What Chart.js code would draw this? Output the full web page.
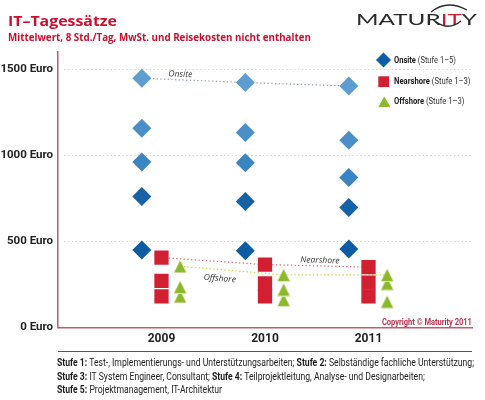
<!DOCTYPE html>
<html><head><meta charset="utf-8">
<script src="https://cdn.jsdelivr.net/npm/chart.js@4.4.1/dist/chart.umd.min.js"></script>
<style>
html,body{margin:0;padding:0;background:#fff;width:485px;height:400px;overflow:hidden;}
#wrap{position:relative;width:485px;height:400px;}
#c{position:absolute;left:0;top:0;}
.t{position:absolute;white-space:nowrap;line-height:1;transform-origin:0 50%;}
.cond{font-family:'Liberation Sans Narrow',Roboto,sans-serif;}
#title{left:8px;top:10px;font:700 15px 'Open Sans',sans-serif;color:#c8102e;}
#subtitle{left:8px;top:29.5px;font:700 10px 'Open Sans',sans-serif;color:#c8102e;}
#logo{left:356px;top:8.5px;font:400 16px Lato,sans-serif;color:#2a2a2a;}
#logo .r{color:#d0192f;}
.leg{left:393.5px;font-size:9.5px;color:#333;}
.leg b{color:#1a1a1a;}
#copy{right:13.3px;top:317.7px;font-size:8.5px;font-weight:700;color:#b5304d;transform-origin:100% 50%;}
.foot{left:57px;font-size:10px;color:#222;}
.foot b{color:#1a1a1a;}
#sep{position:absolute;left:58px;top:351px;width:414px;height:1px;background:#555;}
.mk{position:absolute;}
</style></head>
<body><div id="wrap">
<canvas id="c" width="485" height="400"></canvas>
<div class="t" id="title" data-w="109">IT–Tagessätze</div>
<div class="t" id="subtitle" data-w="303">Mittelwert, 8 Std./Tag, MwSt. und Reisekosten nicht enthalten</div>
<div class="t" id="logo" data-w="121">MATUR<span class="r">IT</span>Y</div>
<svg class="mk" style="left:0;top:0" width="485" height="40"><path d="M431 12 Q447 -1 467 10" fill="none" stroke="#2a2a2a" stroke-width="1.4"/><path d="M436 22 Q449 31 461 21" fill="none" stroke="#2a2a2a" stroke-width="1.4"/></svg>
<svg class="mk" style="left:375px;top:52px" width="18" height="16"><polygon points="1,8 8.5,0.5 16,8 8.5,15.5" fill="#0d5ea7"/></svg>
<svg class="mk" style="left:378px;top:75.5px" width="12" height="12"><rect x="0.3" y="0.3" width="10.8" height="10.8" fill="#d21f32"/></svg>
<svg class="mk" style="left:377.5px;top:95.5px" width="13" height="12"><polygon points="0.3,11 12.3,11 6.3,0.5" fill="#8cb82b"/></svg>
<div class="t leg cond" id="leg1" data-w="62" style="top:55.2px"><b>Onsite</b> (Stufe 1–5)</div>
<div class="t leg cond" id="leg2" data-w="76.5" style="top:76.2px"><b>Nearshore</b> (Stufe 1–3)</div>
<div class="t leg cond" id="leg3" data-w="70.5" style="top:96.2px"><b>Offshore</b> (Stufe 1–3)</div>
<div class="t cond" id="copy" data-w="90">Copyright © Maturity 2011</div>
<div id="sep"></div>
<div class="t foot cond" id="f1" style="top:358.3px"><b>Stufe 1:</b> Test-, Implementierungs- und Unterstützungsarbeiten; <b>Stufe 2:</b> Selbständige fachliche Unterstützung;</div>
<div class="t foot cond" id="f2" style="top:371.7px"><b>Stufe 3:</b> IT System Engineer, Consultant; <b>Stufe 4:</b> Teilprojektleitung, Analyse- und Designarbeiten;</div>
<div class="t foot cond" id="f3" style="top:384.5px"><b>Stufe 5:</b> Projektmanagement, IT-Architektur</div>
</div>
<script>
// ---- data ----
const categories = ['2009', '2010', '2011'];
const yTickValues = [0, 500, 1000, 1500];
const yTickLabels = ['0 Euro', '500 Euro', '1000 Euro', '1500 Euro'];
const onsiteStufe1 = [450, 445, 455];
const onsiteStufe2 = [760, 730, 695];
const onsiteStufe3 = [960, 955, 870];
const onsiteStufe4 = [1155, 1130, 1085];
const onsiteStufe5 = [1445, 1420, 1400];
const nearshoreStufe1 = [180, 180, 180];
const nearshoreStufe2 = [270, 255, 260];
const nearshoreStufe3 = [405, 365, 350];
const offshoreStufe1 = [180, 160, 150];
const offshoreStufe2 = [235, 220, 255];
const offshoreStufe3 = [355, 305, 305];
const trendLabels = ['Onsite', 'Nearshore', 'Offshore'];

// ---- styles ----
const groupOffset = { onsite: -0.19, nearshore: 0, offshore: 0.18 };
const onsiteColors = ['#0c5ba3', '#1562a6', '#3b84c2', '#4a8fc8', '#5e9dd0'];
const nearColor = '#d21f32';
const offColor = '#8cb82b';
const condFont = "'Liberation Sans Narrow', Roboto, sans-serif";

function pts(arr, off) { return arr.map((v, i) => ({ x: i + off, y: v })); }

function triangleImage(w, h, color) {
  const c = document.createElement('canvas');
  c.width = w; c.height = h;
  const g = c.getContext('2d');
  g.beginPath();
  g.moveTo(0.3, h - 0.3); g.lineTo(w - 0.3, h - 0.3); g.lineTo(w / 2, 0.3); g.closePath();
  g.fillStyle = color; g.fill();
  g.strokeStyle = 'rgba(255,255,255,0.9)'; g.lineWidth = 0.8; g.stroke();
  return c;
}
const tri = triangleImage(14, 14, offColor);

function marker(arr, off, style, radius, color, order) {
  return { type: 'scatter', data: pts(arr, off), pointStyle: style, pointRadius: radius,
    pointHoverRadius: radius, backgroundColor: color, borderColor: color, pointBorderWidth: 0,
    borderWidth: 0, order: order };
}
function trend(arr, off, color) {
  return { type: 'line', data: pts(arr, off), borderColor: color, borderWidth: 1.2,
    borderDash: [1.3, 2.4], pointRadius: 0, pointHoverRadius: 0, fill: false, tension: 0, order: 100 };
}

const onsiteSeries = [onsiteStufe1, onsiteStufe2, onsiteStufe3, onsiteStufe4, onsiteStufe5];
const nearSeries = [nearshoreStufe1, nearshoreStufe2, nearshoreStufe3];
const offSeries = [offshoreStufe1, offshoreStufe2, offshoreStufe3];

const datasets = [
  trend(onsiteStufe5, groupOffset.onsite, '#8b9cb2'),
  trend(nearshoreStufe3, groupOffset.nearshore, '#d86877'),
  trend(offshoreStufe3, groupOffset.offshore, '#cfcf4a')
];
onsiteSeries.forEach((s, i) => datasets.push(marker(s, groupOffset.onsite, 'rectRot', 9.5, onsiteColors[i], 5)));
nearSeries.forEach((s, i) => datasets.push(marker(s, groupOffset.nearshore, 'rect', 10.1, nearColor, 4 - i)));
offSeries.forEach((s, i) => datasets.push(marker(s, groupOffset.offshore, tri, 7, offColor, 4 - i)));

const gridPlugin = {
  id: 'dotGrid',
  beforeDatasetsDraw(chart) {
    const { ctx, chartArea: a, scales: { y } } = chart;
    ctx.save();
    ctx.strokeStyle = '#c9d3df'; ctx.lineWidth = 1; ctx.setLineDash([1.3, 2.6]);
    yTickValues.filter(v => v > 0).forEach(v => {
      const py = Math.round(y.getPixelForValue(v)) + 0.5;
      ctx.beginPath(); ctx.moveTo(a.left + 6, py); ctx.lineTo(a.right, py); ctx.stroke();
    });
    ctx.restore();
  }
};

const trendLabelCfg = [
  { ds: 0, xValue: 0.18, dy: -5.5 },
  { ds: 1, xValue: 1.53, dy: -5.5 },
  { ds: 2, xValue: 0.57, dy: 9 }
];
const trendLabelPlugin = {
  id: 'trendLabels',
  afterDatasetsDraw(chart) {
    const { ctx, scales: { x } } = chart;
    ctx.save();
    ctx.font = "italic 8.5px 'Open Sans', sans-serif";
    ctx.fillStyle = '#333';
    ctx.textAlign = 'center'; ctx.textBaseline = 'middle';
    trendLabelCfg.forEach((c, k) => {
      const meta = chart.getDatasetMeta(c.ds);
      const px = x.getPixelForValue(c.xValue);
      let p0 = meta.data[0], p1 = meta.data[1];
      for (let i = 0; i < meta.data.length - 1; i++) {
        if (px >= meta.data[i].x && px <= meta.data[i + 1].x) { p0 = meta.data[i]; p1 = meta.data[i + 1]; }
      }
      const t = (px - p0.x) / (p1.x - p0.x);
      const py = p0.y + t * (p1.y - p0.y);
      const ang = Math.atan2(p1.y - p0.y, p1.x - p0.x);
      ctx.save();
      ctx.translate(px, py); ctx.rotate(ang);
      ctx.fillText(trendLabels[k], 0, c.dy);
      ctx.restore();
    });
    ctx.restore();
  }
};

const axisColor = '#c65a6b';
new Chart(document.getElementById('c'), {
  type: 'scatter',
  data: { datasets },
  plugins: [gridPlugin, trendLabelPlugin],
  options: {
    responsive: false, animation: false, events: [],
    layout: { padding: { left: 0, top: 51.5, right: 13, bottom: 52.5 } },
    plugins: { legend: { display: false }, tooltip: { enabled: false } },
    scales: {
      x: {
        type: 'linear', min: -1, max: 3,
        afterBuildTicks: s => { s.ticks = categories.map((c, i) => ({ value: i })); },
        afterFit: s => { s.height = 20; },
        ticks: { callback: v => categories[v], color: '#222', padding: 4, maxRotation: 0, autoSkip: false,
          font: { family: condFont, size: 12, weight: 'bold' } },
        grid: { display: false, drawTicks: false },
        border: { display: true, color: axisColor, width: 1.5 }
      },
      y: {
        type: 'linear', min: 0, max: 1600,
        afterBuildTicks: s => { s.ticks = yTickValues.map(v => ({ value: v })); },
        afterFit: s => { s.width = 58; },
        ticks: { callback: v => yTickLabels[yTickValues.indexOf(v)], color: '#222', padding: 5,
          font: { family: condFont, size: 11.5, weight: 'bold' } },
        grid: { display: false, drawTicks: false },
        border: { display: true, color: axisColor, width: 1.5 }
      }
    }
  }
});

// ---- fit text widths ----
function fitAll() {
  document.querySelectorAll('[data-w]').forEach(el => {
    el.style.transform = 'none';
    const w = el.getBoundingClientRect().width;
    const s = parseFloat(el.dataset.w) / w;
    el.style.transform = 'scaleX(' + s + ')';
  });
  const f1 = document.getElementById('f1');
  f1.style.transform = 'none';
  const s = 417 / f1.getBoundingClientRect().width;
  ['f1', 'f2', 'f3'].forEach(id => { document.getElementById(id).style.transform = 'scaleX(' + s + ')'; });
}
fitAll();
if (document.fonts && document.fonts.ready) document.fonts.ready.then(fitAll);
</script>
</body></html>
